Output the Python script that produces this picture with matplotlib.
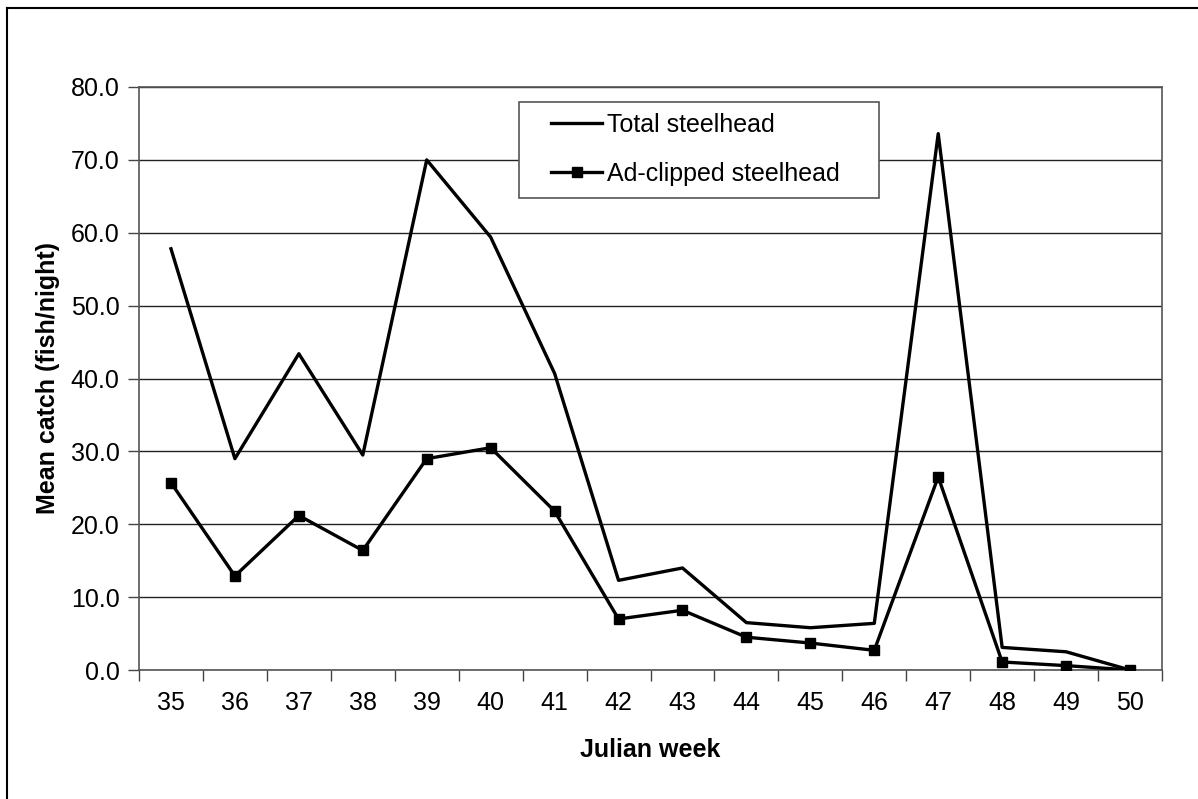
import numpy as np
import matplotlib.pyplot as plt
from matplotlib.lines import Line2D
from matplotlib.patches import Rectangle

weeks = ['35', '36', '37', '38', '39', '40', '41', '42', '43', '44', '45', '46', '47', '48', '49', '50']
total = [57.8, 29.0, 43.4, 29.5, 70.0, 59.4, 40.7, 12.3, 14.0, 6.5, 5.8, 6.4, 73.6, 3.1, 2.5, 0.0]
clipped = [25.7, 12.9, 21.2, 16.4, 29.0, 30.5, 21.8, 7.0, 8.2, 4.5, 3.7, 2.7, 26.5, 1.1, 0.6, 0.0]

plt.rcParams['font.family'] = ['Liberation Sans', 'DejaVu Sans']

W, H = 1198, 799
fig = plt.figure(figsize=(W / 100, H / 100), dpi=100)
ax = fig.add_axes([139 / W, 1 - 670 / H, (1162 - 139) / W, (670 - 87) / H])

x = np.arange(len(weeks))
ax.plot(x, total, color='black', lw=2.4, label='Total steelhead', zorder=3)
ax.plot(x, clipped, color='black', lw=2.4, marker='s', markersize=7,
        label='Ad-clipped steelhead', zorder=3)

ax.set_xlim(-0.5, len(weeks) - 0.5)
ax.set_ylim(0, 80)
ax.set_yticks(np.arange(0, 81, 10))
ax.set_yticklabels(['%.1f' % v for v in np.arange(0, 81, 10)], fontsize=18)
ax.yaxis.grid(True, color='#222222', lw=1)
ax.set_axisbelow(True)

# ticks at category boundaries, labels at centres
ax.set_xticks(np.arange(-0.5, len(weeks), 1.0))
ax.set_xticklabels([])
ax.set_xticks(x, minor=True)
ax.set_xticklabels(weeks, minor=True, fontsize=18)
ax.tick_params(axis='x', which='major', length=8, width=1, color='#444444', direction='out')
ax.tick_params(axis='x', which='minor', length=0, pad=15)
ax.tick_params(axis='y', length=8, width=1, color='#444444', direction='out', pad=6)

for s in ax.spines.values():
    s.set_color('#555555')
    s.set_linewidth(1.2)

ax.set_xlabel('Julian week', fontsize=18, fontweight='bold', labelpad=17)
ax.set_ylabel('Mean catch (fish/night)', fontsize=18, fontweight='bold', labelpad=8)

# legend: frame drawn separately so it matches the box size
ax.add_patch(Rectangle((519 / W, 1 - 198 / H), (879 - 519) / W, (198 - 102) / H,
                       transform=fig.transFigure, facecolor='white', clip_on=False,
                       edgecolor='#555555', lw=1.2, zorder=4))
leg = ax.legend(loc='upper left', bbox_to_anchor=(551 / W, 1 - 113 / H),
                bbox_transform=fig.transFigure, borderaxespad=0, borderpad=0,
                fontsize=18, frameon=False, handlelength=2.05,
                handletextpad=0.2, labelspacing=1.0)
leg.set_zorder(5)

# chart-area border (top and left visible)
fig.add_artist(Line2D([7 / W, 1], [1 - 8 / H, 1 - 8 / H], transform=fig.transFigure,
                      color='black', lw=1.5))
fig.add_artist(Line2D([7 / W, 7 / W], [0, 1 - 8 / H], transform=fig.transFigure,
                      color='black', lw=1.5))

fig.savefig('out.png', dpi=100, facecolor='white')
